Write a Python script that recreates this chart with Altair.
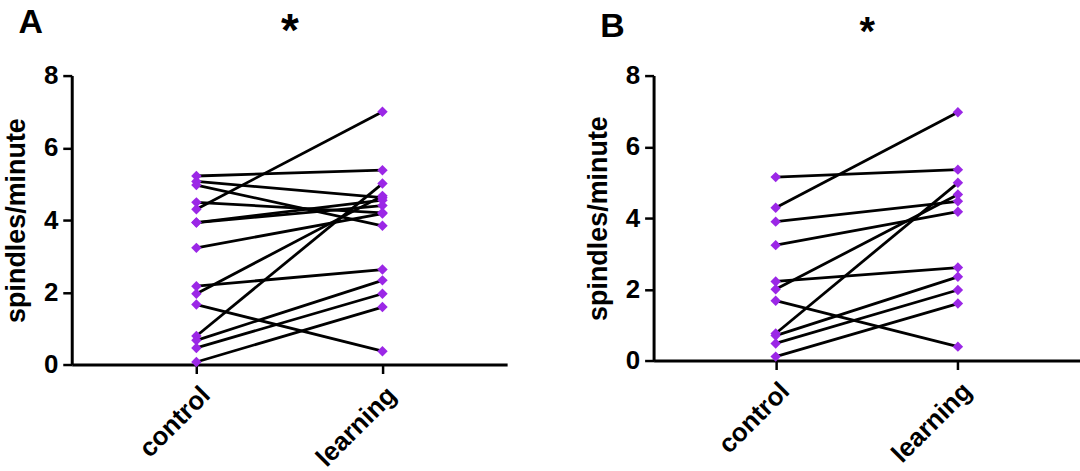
import altair as alt
import pandas as pd

groups = ["control", "learning"]
control_A = [5.22, 5.07, 4.97, 4.49, 4.30, 3.93, 3.93, 3.23, 2.17, 1.96, 1.66, 0.79, 0.67, 0.46, 0.07]
learning_A = [5.38, 4.62, 3.84, 4.20, 7.00, 4.55, 4.40, 4.18, 2.63, 4.67, 0.37, 5.01, 2.33, 1.96, 1.59]
control_B = [5.15, 4.29, 3.90, 3.24, 2.22, 2.00, 1.68, 0.76, 0.70, 0.48, 0.11]
learning_B = [5.36, 6.97, 4.47, 4.18, 2.61, 4.66, 0.39, 4.99, 2.35, 1.98, 1.60]
y_ticks = [0, 2, 4, 6, 8]
panel_letters = ["A", "B"]
sig_marks = ["*", "*"]
y_title = "spindles/minute"

FONT = "Liberation Sans"
PURPLE = "#9B27E6"


def make_df(ctrl, learn):
    rows = []
    for i, (a, b) in enumerate(zip(ctrl, learn)):
        rows.append({"subject": i, "group": groups[0], "value": a})
        rows.append({"subject": i, "group": groups[1], "value": b})
    return pd.DataFrame(rows)


def panel(df, letter, sig, w, h, top_gap, title_offset, star_size, star_pad):
    xscale = alt.Scale(type="point", domain=groups, padding=0.67)
    yscale = alt.Scale(domain=[0, 8], nice=False)
    x_bottom = alt.X(
        "group:N", scale=xscale,
        axis=alt.Axis(title=None, labelAngle=-45, labelFontSize=26, labelFontWeight="bold",
                      labelFont=FONT, labelColor="black", tickSize=9, tickWidth=2.5,
                      tickColor="black", domainWidth=3, domainColor="black",
                      labelPadding=8, grid=False, orient="bottom"),
    )
    x_top = alt.X(
        "group:N", scale=xscale,
        axis=alt.Axis(title=sig, orient="top", labels=False, ticks=False, domain=False,
                      grid=False, titleFontSize=star_size, titleFontWeight="bold", titleFont=FONT,
                      titleColor="black", titlePadding=star_pad),
    )
    y = alt.Y(
        "value:Q", scale=yscale,
        axis=alt.Axis(values=y_ticks, title=y_title, titleFontSize=27, titleFontWeight="bold",
                      titleFont=FONT, titleColor="black", titlePadding=13,
                      labelFontSize=26, labelFontWeight="bold", labelFont=FONT,
                      labelColor="black", tickSize=9, tickWidth=2.5, tickColor="black",
                      domainWidth=3, domainColor="black", labelPadding=5, grid=False),
    )
    lines = alt.Chart(df).mark_line(color="black", strokeWidth=2.8).encode(
        x=x_top, y=y, detail="subject:N"
    )
    pts = alt.Chart(df).mark_point(shape="diamond", filled=True, color=PURPLE,
                                   size=110, opacity=1).encode(x=x_bottom, y=y)
    return alt.layer(lines, pts).resolve_axis(x="independent").properties(
        width=w, height=h,
        title=alt.TitleParams(" ", subtitle=letter, anchor="start", frame="bounds",
                              fontSize=top_gap, font=FONT, subtitleFont=FONT,
                              subtitleFontSize=34, subtitleFontWeight="bold",
                              subtitleColor="black", subtitlePadding=0, dx=16,
                              offset=title_offset),
    )


chartA = panel(make_df(control_A, learning_A), panel_letters[0], sig_marks[0],
               437, 290, 1, -31, 46, 20)
chartB = panel(make_df(control_B, learning_B), panel_letters[1], sig_marks[1],
               428, 286, 9, -31, 40, 23)

chart = alt.concat(chartA, chartB, columns=2, spacing=77).properties(
    align="none",
    padding={"left": 2, "top": 0, "right": 0, "bottom": 0}
).configure_view(stroke=None)

chart.save("out.html", embed_options={"renderer": "svg", "actions": False})
